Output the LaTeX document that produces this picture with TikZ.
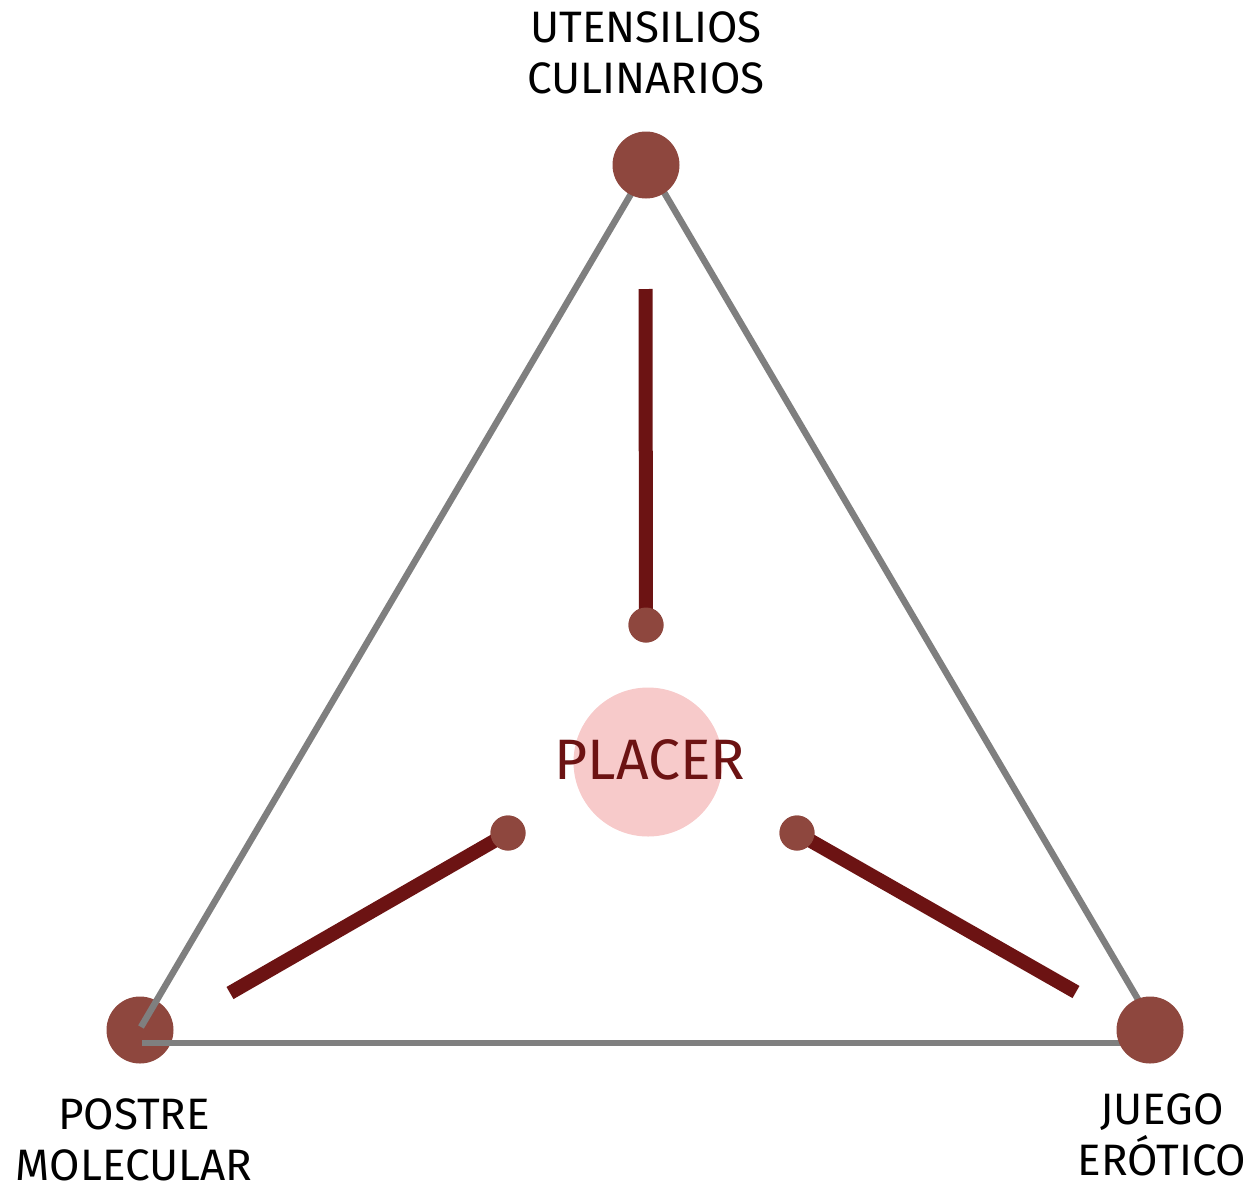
\documentclass[tikz,border=0pt]{standalone}
\usepackage{fontspec}
\setmainfont{Fira Sans}
\definecolor{dotred}{HTML}{8E473E}
\definecolor{barred}{HTML}{6C1313}
\definecolor{edgegrey}{HTML}{7F7F7F}
\definecolor{corepink}{HTML}{F7CACA}
\tikzset{
  vertexdot/.style={circle, fill=dotred, inner sep=0pt, minimum size=67pt},
  smalldot/.style={circle, fill=dotred, inner sep=0pt, minimum size=35pt},
  edgeline/.style={draw=edgegrey, line width=6.5pt},
  spoke/.style={draw=barred, line width=14pt},
  cornerlabel/.style={align=center, inner sep=0pt, font=\fontsize{44}{51}\selectfont, text=black},
}
\begin{document}
\begin{tikzpicture}[x=1pt,y=-1pt]
\useasboundingbox (0,0) rectangle (1255,1186);

% corner markers and edge anchors
\node[vertexdot] (pm) at (140,1030) {};
\coordinate (top) at (648,165);
\coordinate (pmtip) at (141,1027);
\coordinate (base1) at (142,1043);
\coordinate (base2) at (1150,1043);
\coordinate (jetip) at (1156,1030);

% triangle edges
\draw[edgeline] (top) -- (pmtip);
\draw[edgeline] (base1) -- (base2);
\draw[edgeline] (top) -- (jetip);

\node[vertexdot] (uc) at (646,165) {};
\node[vertexdot] (je) at (1150,1030) {};

% centre
\node[circle, fill=corepink, inner sep=0pt, minimum size=149pt] (core) at (648,762) {};
\node[text=barred, inner sep=0pt, font=\fontsize{57}{57}\selectfont] (placer) at (650,760) {PLACER};

% spokes towards the centre
\node[smalldot] (s1) at (646,625) {};
\node[smalldot] (s2) at (508,833) {};
\node[smalldot] (s3) at (797,833) {};
\coordinate (e1) at (645.5,289);
\coordinate (e2) at (230,993);
\coordinate (e3) at (1076,992);
\draw[spoke] (e1) -- (s1.center);
\draw[spoke] (e2) -- (s2.center);
\draw[spoke] (e3) -- (s3.center);
\node[smalldot] at (s1) {};
\node[smalldot] at (s2) {};
\node[smalldot] at (s3) {};

% labels
\node[cornerlabel] (lab-uc) at (646,53) {UTENSILIOS\\CULINARIOS};
\node[cornerlabel] (lab-pm) at (134,1140) {POSTRE\\MOLECULAR};
\node[cornerlabel] (lab-je) at (1162,1135) {JUEGO\\ERÓTICO};
\end{tikzpicture}
\end{document}
